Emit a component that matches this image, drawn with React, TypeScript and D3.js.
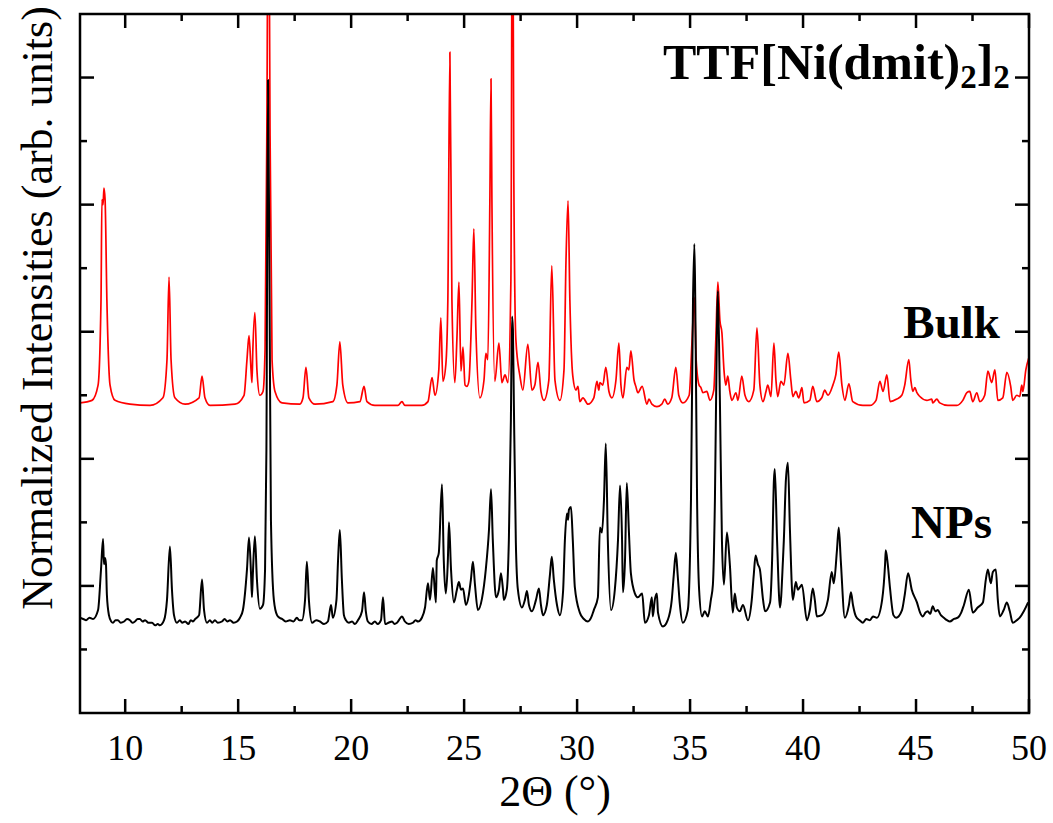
import React from 'react';
import * as d3 from 'd3';

// 2θ (degrees) vs normalized intensity (arb. units)
const bulkPattern: [number, number][] = [
  [8.0, 2.44], [8.53, 2.46], [8.8, 2.58], [8.93, 3.25], [8.97, 4.04], [9.02, 4.0], [9.06, 4.13], [9.11, 4.04], [9.19, 3.25], [9.33, 2.58], [9.55, 2.46],
  [10.21, 2.43], [11.1, 2.42], [11.67, 2.48], [11.85, 2.78], [11.94, 3.43], [12.03, 2.78], [12.2, 2.48], [12.65, 2.43],
  [13.27, 2.48], [13.4, 2.65], [13.53, 2.48], [13.75, 2.42], [14.86, 2.43], [15.26, 2.5], [15.39, 2.78], [15.48, 2.97],
  [15.57, 2.7], [15.61, 2.6], [15.65, 2.86], [15.74, 3.15], [15.83, 2.7], [15.96, 2.5], [16.1, 2.53], [16.19, 2.86],
  [16.27, 4.6], [16.34, 7.0], [16.41, 4.6], [16.5, 2.78], [16.63, 2.53], [16.94, 2.44], [17.73, 2.43], [17.87, 2.48],
  [18.0, 2.72], [18.13, 2.48], [18.4, 2.43], [19.19, 2.45], [19.37, 2.58], [19.5, 2.92], [19.63, 2.58], [19.86, 2.44],
  [20.39, 2.45], [20.57, 2.57], [20.7, 2.45], [21.05, 2.42], [22.07, 2.42], [22.25, 2.45], [22.38, 2.42], [23.13, 2.42],
  [23.4, 2.45], [23.58, 2.64], [23.71, 2.5], [23.88, 2.7], [23.97, 3.11], [24.06, 2.61], [24.19, 2.74], [24.28, 3.25],
  [24.37, 5.2], [24.46, 3.25], [24.59, 2.6], [24.68, 2.94], [24.77, 3.39], [24.86, 2.69], [24.95, 2.88], [25.04, 2.58],
  [25.12, 2.57], [25.21, 2.61], [25.35, 3.25], [25.43, 3.81], [25.52, 3.02], [25.7, 2.48], [25.88, 2.62], [25.96, 2.83],
  [26.05, 2.78], [26.14, 4.04], [26.19, 4.99], [26.23, 4.04], [26.36, 2.61], [26.54, 2.91], [26.67, 2.6], [26.81, 2.66],
  [26.94, 2.6], [27.07, 3.4], [27.14, 7.0], [27.2, 4.2], [27.29, 2.94], [27.47, 2.65], [27.6, 2.54], [27.82, 2.9],
  [28.0, 2.54], [28.13, 2.58], [28.27, 2.76], [28.4, 2.53], [28.53, 2.46], [28.75, 2.62], [28.88, 3.52], [29.02, 2.62],
  [29.24, 2.46], [29.42, 2.7], [29.51, 3.57], [29.6, 4.03], [29.68, 3.25], [29.81, 2.65], [29.95, 2.54], [30.04, 2.57],
  [30.12, 2.45], [30.26, 2.48], [30.48, 2.43], [30.74, 2.48], [30.88, 2.61], [30.96, 2.54], [31.01, 2.6], [31.14, 2.58],
  [31.27, 2.72], [31.41, 2.53], [31.54, 2.48], [31.72, 2.62], [31.85, 2.91], [31.94, 2.58], [32.03, 2.48], [32.2, 2.72],
  [32.29, 2.7], [32.38, 2.85], [32.52, 2.62], [32.6, 2.57], [32.69, 2.52], [32.88, 2.57], [33.09, 2.43], [33.18, 2.47],
  [33.31, 2.43], [33.53, 2.41], [33.75, 2.43], [33.88, 2.47], [34.01, 2.43], [34.19, 2.48], [34.37, 2.72], [34.5, 2.5],
  [34.68, 2.44], [34.96, 2.5], [35.09, 2.94], [35.19, 3.27], [35.27, 2.78], [35.4, 2.58], [35.48, 2.56], [35.57, 2.52],
  [35.74, 2.53], [35.88, 2.46], [36.05, 2.54], [36.14, 2.94], [36.23, 3.39], [36.32, 3.09], [36.41, 2.99], [36.5, 2.7],
  [36.58, 2.58], [36.67, 2.65], [36.76, 2.53], [36.85, 2.46], [37.03, 2.52], [37.12, 2.46], [37.29, 2.65], [37.43, 2.5],
  [37.6, 2.45], [37.82, 2.54], [37.96, 3.03], [38.09, 2.58], [38.23, 2.45], [38.36, 2.53], [38.44, 2.58], [38.58, 2.49],
  [38.71, 2.91], [38.8, 2.62], [38.88, 2.49], [39.02, 2.61], [39.15, 2.58], [39.33, 2.83], [39.46, 2.62], [39.55, 2.49],
  [39.68, 2.53], [39.81, 2.48], [39.95, 2.56], [40.04, 2.44], [40.3, 2.46], [40.43, 2.57], [40.61, 2.45], [40.83, 2.48],
  [40.96, 2.54], [41.1, 2.5], [41.32, 2.58], [41.45, 2.66], [41.58, 2.84], [41.72, 2.58], [41.85, 2.46], [42.03, 2.59],
  [42.2, 2.45], [42.65, 2.42], [42.96, 2.42], [43.23, 2.46], [43.4, 2.61], [43.54, 2.53], [43.71, 2.66], [43.85, 2.45],
  [44.15, 2.47], [44.37, 2.5], [44.5, 2.58], [44.68, 2.78], [44.77, 2.62], [44.86, 2.53], [44.95, 2.56], [45.04, 2.52],
  [45.17, 2.49], [45.48, 2.46], [45.7, 2.47], [45.74, 2.44], [45.92, 2.47], [46.05, 2.44], [46.41, 2.42], [46.81, 2.42],
  [47.07, 2.46], [47.25, 2.52], [47.38, 2.53], [47.51, 2.45], [47.69, 2.52], [47.82, 2.45], [48.04, 2.5], [48.18, 2.69],
  [48.35, 2.6], [48.49, 2.7], [48.62, 2.46], [48.84, 2.48], [49.02, 2.68], [49.19, 2.57], [49.28, 2.46], [49.46, 2.5],
  [49.59, 2.49], [49.68, 2.58], [49.73, 2.53], [49.86, 2.7], [50.0, 2.8],
];

const npPattern: [number, number][] = [
  [8.0, 0.75], [8.14, 0.74], [8.27, 0.73], [8.42, 0.75], [8.58, 0.74], [8.8, 0.81], [8.93, 1.13], [9.02, 1.37], [9.06, 1.17], [9.11, 1.22], [9.15, 1.17],
  [9.19, 0.93], [9.28, 0.77], [9.38, 0.72], [9.46, 0.71], [9.57, 0.73], [9.68, 0.73], [9.8, 0.71], [9.95, 0.72], [10.08, 0.74],
  [10.21, 0.73], [10.32, 0.71], [10.43, 0.72], [10.55, 0.74], [10.65, 0.74], [10.77, 0.72],
  [10.88, 0.73], [11.03, 0.71], [11.19, 0.71], [11.33, 0.69], [11.44, 0.7], [11.54, 0.69], [11.72, 0.73], [11.85, 0.89], [11.98, 1.31], [12.07, 0.97], [12.16, 0.77],
  [12.29, 0.71], [12.42, 0.73], [12.52, 0.71], [12.65, 0.72], [12.8, 0.7], [12.9, 0.73], [13.0, 0.72], [13.1, 0.74], [13.27, 0.77], [13.4, 1.05], [13.49, 0.81], [13.62, 0.71],
  [13.75, 0.73], [13.85, 0.71], [13.97, 0.73], [14.1, 0.71],
  [14.28, 0.72], [14.4, 0.74], [14.52, 0.72], [14.64, 0.73], [14.8, 0.71], [14.95, 0.72], [15.08, 0.75], [15.21, 0.81], [15.39, 1.13], [15.48, 1.38], [15.57, 1.09], [15.61, 0.91],
  [15.65, 1.09], [15.74, 1.39], [15.83, 1.05], [15.96, 0.82], [16.1, 0.85], [16.19, 1.13], [16.25, 2.07], [16.32, 4.98],
  [16.39, 3.25], [16.45, 1.52], [16.58, 0.89], [16.72, 0.77], [16.83, 0.75], [16.94, 0.74], [17.1, 0.72], [17.29, 0.73], [17.45, 0.72], [17.6, 0.75], [17.7, 0.73], [17.82, 0.73],
  [17.96, 0.89], [18.04, 1.19], [18.13, 0.89], [18.27, 0.71], [18.45, 0.73], [18.62, 0.72], [18.8, 0.7], [18.97, 0.72], [19.11, 0.85], [19.19, 0.75],
  [19.35, 0.89], [19.42, 1.2], [19.5, 1.44], [19.59, 1.05], [19.68, 0.77], [19.77, 0.73], [19.9, 0.71], [20.04, 0.72], [20.17, 0.7], [20.3, 0.73],
  [20.48, 0.8], [20.57, 0.95], [20.65, 0.8], [20.74, 0.72], [20.9, 0.7], [21.05, 0.72], [21.18, 0.7], [21.32, 0.73], [21.41, 0.91], [21.5, 0.7],
  [21.65, 0.71], [21.81, 0.72], [21.92, 0.7], [22.03, 0.71], [22.25, 0.76], [22.38, 0.72], [22.55, 0.7], [22.73, 0.71], [22.85, 0.73], [22.96, 0.72], [23.13, 0.75], [23.27, 0.83],
  [23.4, 1.02], [23.49, 0.89], [23.62, 1.14], [23.75, 0.87], [23.79, 1.2], [23.88, 1.26], [24.02, 1.8], [24.1, 1.2],
  [24.19, 0.94], [24.28, 1.2], [24.33, 1.5], [24.42, 1.13], [24.55, 0.87], [24.68, 0.97], [24.77, 1.03], [24.86, 0.97],
  [24.95, 0.98], [25.08, 0.85], [25.21, 0.93], [25.3, 1.05], [25.39, 1.19], [25.48, 1.01], [25.61, 0.81], [25.79, 0.9],
  [25.96, 1.13], [26.1, 1.44], [26.19, 1.76], [26.27, 1.36], [26.41, 0.91], [26.54, 0.97], [26.63, 1.1], [26.72, 0.97],
  [26.76, 0.89], [26.89, 0.97], [26.98, 1.36], [27.07, 2.31], [27.12, 3.12], [27.16, 3.02], [27.2, 2.46], [27.29, 1.34],
  [27.38, 0.97], [27.56, 0.83], [27.69, 0.89], [27.78, 0.96], [27.87, 0.85], [28.0, 0.8], [28.18, 0.89], [28.31, 0.98],
  [28.4, 0.85], [28.49, 0.77], [28.66, 0.85], [28.8, 1.09], [28.88, 1.23], [28.97, 1.05], [29.11, 0.85], [29.24, 0.77],
  [29.38, 0.96], [29.46, 1.36], [29.55, 1.57], [29.6, 1.52], [29.64, 1.6], [29.73, 1.62], [29.81, 1.36], [29.9, 0.99],
  [30.12, 0.79], [30.3, 0.74], [30.48, 0.72], [30.62, 0.75], [30.74, 0.81], [30.92, 0.91], [31.01, 1.46], [31.1, 1.42], [31.19, 1.68], [31.27, 2.12],
  [31.36, 1.36], [31.5, 0.81], [31.67, 0.97], [31.81, 1.36], [31.9, 1.79], [31.99, 1.36], [32.03, 0.95], [32.12, 1.2],
  [32.2, 1.81], [32.29, 1.44], [32.38, 1.1], [32.56, 0.94], [32.69, 0.91], [32.88, 0.94], [33.0, 0.71], [33.18, 0.77],
  [33.31, 0.91], [33.35, 0.76], [33.44, 0.89], [33.53, 0.94], [33.58, 0.79], [33.8, 0.68], [34.01, 0.73], [34.19, 0.89],
  [34.28, 1.09], [34.37, 1.26], [34.45, 1.09], [34.55, 0.85], [34.68, 0.71], [34.9, 0.81], [35.04, 1.68], [35.13, 3.25],
  [35.19, 3.69], [35.23, 3.25], [35.31, 1.68], [35.4, 0.97], [35.53, 0.76], [35.65, 0.8], [35.79, 0.76], [35.92, 0.89],
  [36.01, 1.01], [36.1, 1.68], [36.19, 3.02], [36.23, 3.32], [36.32, 2.46], [36.41, 1.36], [36.5, 1.01], [36.63, 1.42],
  [36.76, 1.17], [36.89, 0.79], [36.98, 0.94], [37.07, 0.83], [37.2, 0.8], [37.34, 0.85], [37.56, 0.73], [37.73, 0.89],
  [37.82, 1.09], [37.9, 1.24], [38.0, 1.17], [38.09, 1.13], [38.23, 0.89], [38.32, 0.8], [38.54, 0.87], [38.63, 1.2],
  [38.71, 1.83], [38.75, 1.92], [38.85, 1.36], [38.98, 0.83], [39.11, 1.2], [39.15, 1.36], [39.24, 1.83], [39.33, 1.97],
  [39.42, 1.44], [39.55, 0.89], [39.68, 1.03], [39.77, 0.97], [39.86, 0.99], [39.95, 1.01], [40.17, 0.73], [40.3, 0.81],
  [40.43, 0.98], [40.52, 0.89], [40.61, 0.76], [40.83, 0.77], [41.1, 0.89], [41.27, 1.11], [41.36, 1.02], [41.5, 1.28],
  [41.58, 1.46], [41.67, 1.2], [41.85, 0.75], [42.03, 0.85], [42.12, 0.95], [42.21, 0.85], [42.34, 0.76], [42.5, 0.73], [42.65, 0.71],
  [42.8, 0.74], [42.96, 0.73], [43.1, 0.76], [43.27, 0.75], [43.5, 0.89], [43.63, 1.17], [43.66, 1.28], [43.75, 1.17], [43.85, 0.98], [44.0, 0.77], [44.12, 0.75],
  [44.38, 0.81], [44.5, 0.93], [44.65, 1.1], [44.81, 0.97], [45.04, 0.87], [45.18, 0.79], [45.3, 0.76], [45.42, 0.79], [45.52, 0.8], [45.63, 0.78], [45.74, 0.84],
  [45.85, 0.8], [45.96, 0.81], [46.1, 0.77], [46.23, 0.75], [46.37, 0.73], [46.5, 0.72], [46.68, 0.74], [46.85, 0.75], [47.0, 0.79], [47.12, 0.85], [47.34, 0.97], [47.51, 0.79], [47.73, 0.83],
  [47.96, 0.87], [48.09, 1.05], [48.18, 1.13], [48.31, 1.02], [48.4, 1.11], [48.53, 1.13], [48.62, 0.89], [48.71, 0.76],
  [48.88, 0.81], [49.02, 0.87], [49.15, 0.8], [49.28, 0.71], [49.46, 0.73], [49.59, 0.75], [49.77, 0.8], [49.96, 0.87],
];

const xMajorTicks = [10, 15, 20, 25, 30, 35, 40, 45, 50];
const xMinorTicks = [12.5, 17.5, 22.5, 27.5, 32.5, 37.5, 42.5, 47.5];
const yMajorTicks = [1, 2, 3, 4, 5];
const yMinorTicks = [0.5, 1.5, 2.5, 3.5, 4.5];
const xDomain: [number, number] = [8, 50];
const yDomain: [number, number] = [0, 5.5];

const seriesLabels = ['Bulk', 'NPs'];

export default function App() {
  const W = 1053, H = 823;
  const m = { left: 80, right: 1029, top: 14, bottom: 713 };
  const x = d3.scaleLinear().domain(xDomain).range([m.left, m.right]);
  const y = d3.scaleLinear().domain(yDomain).range([m.bottom, m.top]);
  const line = d3.line<[number, number]>().x(d => x(d[0])).y(d => y(d[1])).curve(d3.curveMonotoneX);
  const serif = "'Liberation Serif', 'Times New Roman', serif";
  const majorLen = 14, minorLen = 7, sw = 2.5;

  return (
    <svg width={W} height={H} style={{ position: 'absolute', left: 0, top: 0, background: '#fff' }}>
      <defs>
        <clipPath id="plotClip">
          <rect x={m.left} y={m.top} width={m.right - m.left} height={m.bottom - m.top} />
        </clipPath>
      </defs>
      <g clipPath="url(#plotClip)">
        <path d={line(bulkPattern) || ''} fill="none" stroke="#ff0000" strokeWidth={1.7} strokeLinejoin="round" />
        <path d={line(npPattern) || ''} fill="none" stroke="#000" strokeWidth={2} strokeLinejoin="round" />
      </g>
      {/* frame */}
      <rect x={m.left} y={m.top} width={m.right - m.left} height={m.bottom - m.top} fill="none" stroke="#000" strokeWidth={sw} />
      {/* x ticks bottom & top */}
      {xMajorTicks.map(t => (
        <g key={'xM' + t}>
          <line x1={x(t)} x2={x(t)} y1={m.bottom} y2={m.bottom - majorLen} stroke="#000" strokeWidth={sw} />
          <line x1={x(t)} x2={x(t)} y1={m.top} y2={m.top + majorLen} stroke="#000" strokeWidth={sw} />
          <text x={x(t)} y={760} textAnchor="middle" fontFamily={serif} fontSize={36} fill="#000">{t}</text>
        </g>
      ))}
      {xMinorTicks.map(t => (
        <g key={'xm' + t}>
          <line x1={x(t)} x2={x(t)} y1={m.bottom} y2={m.bottom - minorLen} stroke="#000" strokeWidth={sw} />
          <line x1={x(t)} x2={x(t)} y1={m.top} y2={m.top + minorLen} stroke="#000" strokeWidth={sw} />
        </g>
      ))}
      {/* y ticks left & right */}
      {yMajorTicks.map(t => (
        <g key={'yM' + t}>
          <line x1={m.left} x2={m.left + majorLen} y1={y(t)} y2={y(t)} stroke="#000" strokeWidth={sw} />
          <line x1={m.right} x2={m.right - majorLen} y1={y(t)} y2={y(t)} stroke="#000" strokeWidth={sw} />
        </g>
      ))}
      {yMinorTicks.map(t => (
        <g key={'ym' + t}>
          <line x1={m.left} x2={m.left + minorLen} y1={y(t)} y2={y(t)} stroke="#000" strokeWidth={sw} />
          <line x1={m.right} x2={m.right - minorLen} y1={y(t)} y2={y(t)} stroke="#000" strokeWidth={sw} />
        </g>
      ))}
      {/* axis titles */}
      <text x={555} y={806} textAnchor="middle" fontFamily={serif} fontSize={44} fill="#000">2Θ (°)</text>
      <text transform={`translate(52, 308) rotate(-90)`} textAnchor="middle" fontFamily={serif} fontSize={44} fill="#000">
        Normalized Intensities (arb. units)
      </text>
      {/* annotations */}
      <text x={663} y={79} fontFamily={serif} fontSize={50} fontWeight="bold" fill="#000">
        TTF[Ni(dmit)<tspan fontSize={33} dy={9}>2</tspan><tspan dy={-9}>]</tspan><tspan fontSize={33} dy={9}>2</tspan>
      </text>
      <text x={1000} y={338} textAnchor="end" fontFamily={serif} fontSize={47} fontWeight="bold" fill="#000">{seriesLabels[0]}</text>
      <text x={992} y={538} textAnchor="end" fontFamily={serif} fontSize={47} fontWeight="bold" fill="#000">{seriesLabels[1]}</text>
    </svg>
  );
}
